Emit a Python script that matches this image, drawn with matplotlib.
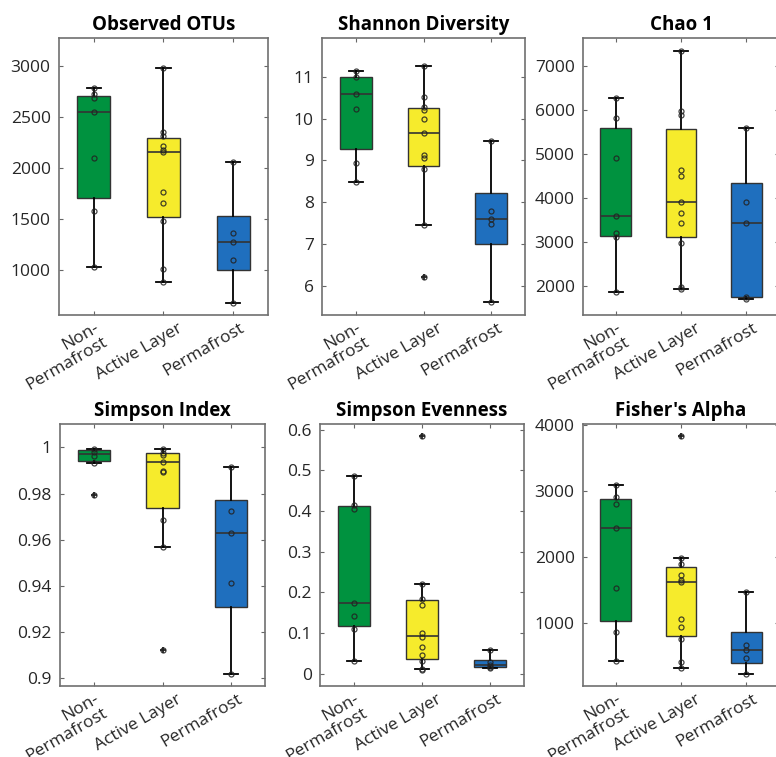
import numpy as np
import matplotlib
matplotlib.use('Agg')
import matplotlib.pyplot as plt
from matplotlib.transforms import ScaledTranslation

plt.rcParams['font.family'] = ['Open Sans', 'DejaVu Sans']

groups = ['Non-\nPermafrost', 'Active Layer', 'Permafrost']
colors = ['#00923F', '#F6EB2C', '#1F6FBE']

titles = ['Observed OTUs', 'Shannon Diversity', 'Chao 1',
          'Simpson Index', 'Simpson Evenness', "Fisher's Alpha"]

# sample points per group (incl. outliers)
otus_pts = [[2778, 2719, 2687, 2550, 2099, 1577, 1032],
            [2977, 2354, 2312, 2217, 2174, 2152, 1760, 1659, 1476, 1010, 880],
            [2057, 1365, 1270, 1101, 680]]
shannon_pts = [[11.13, 11.0, 10.59, 10.24, 8.95, 8.49],
               [11.25, 10.52, 10.28, 10.20, 9.98, 9.66, 9.14, 9.05, 8.80, 7.46, 6.22],
               [9.46, 7.79, 7.60, 7.47, 5.60]]
chao_pts = [[6281, 5828, 4905, 3596, 3195, 3112, 1872],
            [7340, 5979, 5888, 4632, 4489, 3914, 3664, 3437, 2983, 1985, 1925],
            [5586, 3914, 3437, 1758, 1698]]
simpson_pts = [[0.99928, 0.99783, 0.99624, 0.99321, 0.97948],
               [0.99928, 0.99754, 0.99653, 0.99379, 0.98988, 0.98916, 0.96864, 0.95679, 0.91228],
               [0.99147, 0.9724, 0.963, 0.9412, 0.90173]]
even_pts = [[0.487, 0.4156, 0.4049, 0.1738, 0.1418, 0.1098, 0.0311],
            [0.5836, 0.2205, 0.1844, 0.168, 0.100, 0.091, 0.0656, 0.0459, 0.032, 0.0115, 0.0098],
            [0.0582, 0.0279, 0.0213, 0.0164, 0.0131]]
fisher_pts = [[3094, 2912, 2811, 2442, 1531, 863, 423],
              [3833, 1997, 1906, 1729, 1658, 1632, 1071, 944, 767, 408, 327],
              [1476, 666, 595, 469, 226]]

# box stats per group: (whislo, q1, med, q3, whishi)
otus_box = [(1032, 1708, 2550, 2706, 2778), (880, 1515, 2158, 2289, 2977), (680, 1000, 1270, 1532, 2057)]
shannon_box = [(8.49, 9.27, 10.59, 11.0, 11.13), (7.46, 8.87, 9.66, 10.26, 11.25), (5.60, 7.0, 7.59, 8.21, 9.46)]
chao_box = [(1872, 3142, 3596, 5601, 6281), (1925, 3105, 3914, 5578, 7340), (1698, 1743, 3437, 4330, 5586)]
simpson_box = [(0.99321, 0.99393, 0.99697, 0.99884, 0.99928), (0.95679, 0.97384, 0.99379, 0.9974, 0.99928),
               (0.90173, 0.93107, 0.963, 0.97702, 0.99147)]
even_box = [(0.0311, 0.1172, 0.1738, 0.4115, 0.487), (0.0115, 0.0361, 0.0918, 0.1803, 0.2205),
            (0.0131, 0.0164, 0.0205, 0.0344, 0.0582)]
fisher_box = [(423, 1030, 2442, 2887, 3094), (327, 813, 1632, 1860, 1997), (226, 403, 590, 863, 1476)]

# outliers
otus_out = [[], [], []]
shannon_out = [[], [6.22], []]
chao_out = [[], [], []]
simpson_out = [[0.97948], [0.91228], []]
even_out = [[], [0.5836], []]
fisher_out = [[], [3833], []]

points = [otus_pts, shannon_pts, chao_pts, simpson_pts, even_pts, fisher_pts]
boxes = [otus_box, shannon_box, chao_box, simpson_box, even_box, fisher_box]
outliers = [otus_out, shannon_out, chao_out, simpson_out, even_out, fisher_out]
ylims = [(560, 3270), (5.3, 11.93), (1340, 7635), (0.8967, 1.0101), (-0.03, 0.614), (50, 4020)]
yticks = [[1000, 1500, 2000, 2500, 3000], [6, 7, 8, 9, 10, 11], [2000, 3000, 4000, 5000, 6000, 7000],
          [0.9, 0.92, 0.94, 0.96, 0.98, 1], [0, 0.1, 0.2, 0.3, 0.4, 0.5, 0.6], [1000, 2000, 3000, 4000]]
ytick_labels = [None, None, None, ['0.9', '0.92', '0.94', '0.96', '0.98', '1'],
                ['0', '0.1', '0.2', '0.3', '0.4', '0.5', '0.6'], None]

W, H = 776, 757
# axes rectangles in pixels: left, top, right, bottom
rects = [(59, 38, 268, 315), (322, 38, 525, 315), (583, 38, 779, 315),
         (60, 424, 265, 686), (320, 424, 524, 686), (583, 424, 779, 686)]
# x label nudges (px) to mimic the original placement
label_dx = [0, 14, 6]
label_dy = 5

fig = plt.figure(figsize=(W / 100, H / 100), dpi=100)

for i in range(6):
    l, t, r, b = rects[i]
    ax = fig.add_axes([l / W, 1 - b / H, (r - l) / W, (b - t) / H])
    stats = []
    for j in range(3):
        lo, q1, med, q3, hi = boxes[i][j]
        stats.append(dict(whislo=lo, q1=q1, med=med, q3=q3, whishi=hi, fliers=outliers[i][j]))
    bp = ax.bxp(stats, positions=[1, 2, 3], widths=0.47, capwidths=0.21, patch_artist=True,
                boxprops=dict(edgecolor='#333333', linewidth=1.0),
                medianprops=dict(color='#333333', linewidth=1.2),
                whiskerprops=dict(color='black', linewidth=1.3),
                capprops=dict(color='black', linewidth=1.3),
                flierprops=dict(marker='+', markeredgecolor='#222222', markersize=5, markeredgewidth=1.3))
    for patch, c in zip(bp['boxes'], colors):
        patch.set_facecolor(c)
    for j in range(3):
        ax.plot(np.full(len(points[i][j]), j + 1), points[i][j], 'o', markersize=3.6,
                markerfacecolor='none', markeredgecolor='#222222', markeredgewidth=0.9, alpha=0.85, zorder=4)

    ax.set_xlim(0.5, 3.5)
    ax.set_ylim(*ylims[i])
    ax.set_yticks(yticks[i])
    if ytick_labels[i] is not None:
        ax.set_yticklabels(ytick_labels[i])
    ax.set_xticks([1, 2, 3])
    ax.set_xticklabels([])
    for j, g in enumerate(groups):
        tr = ax.get_xaxis_transform() + ScaledTranslation(label_dx[j] / 100, -label_dy / 100, fig.dpi_scale_trans)
        ax.text(j + 1, 0, g, transform=tr, rotation=30, ha='right', va='top', rotation_mode='anchor',
                multialignment='right', fontsize=12.5, color='#262626', linespacing=1.0)
    ax.tick_params(direction='in', top=True, right=True, length=3, width=0.8, color='#666666',
                   labelsize=12.5, labelcolor='#262626', pad=6)
    for s in ax.spines.values():
        s.set_color('#707070')
        s.set_linewidth(1.2)
    ax.set_title(titles[i], fontsize=13.5, fontweight='bold', pad=6)

fig.savefig('out.png', dpi=100)
